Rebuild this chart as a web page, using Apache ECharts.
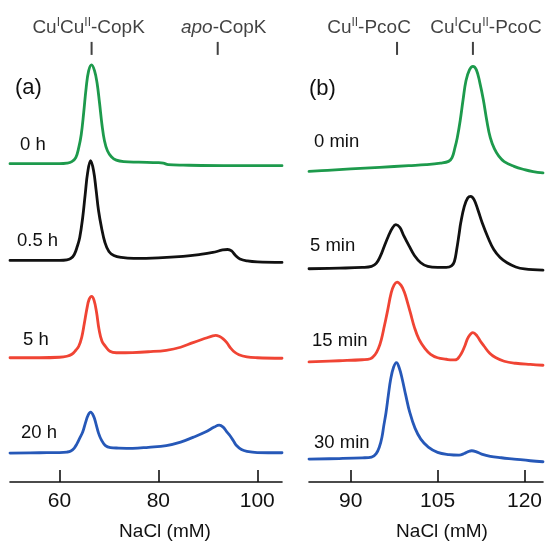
<!DOCTYPE html>
<html>
<head>
<meta charset="utf-8">
<script src="https://cdn.jsdelivr.net/npm/echarts@6/dist/echarts.min.js"></script>
<style>
  html, body { margin: 0; padding: 0; background: #fff; }
  #chart { width: 548px; height: 546px; }
</style>
</head>
<body>
<div id="chart"></div>
<script>
// ---------- DATA (x = NaCl mM, y = stacked absorbance, arbitrary units) ----------
// Panel (a): CopK
const copK_0h = [[50,319],[56,319],[60,319],[61.5,319.5],[62.5,321],[63.3,325],[63.9,335],[64.4,348],[64.9,370],[65.4,395],[65.9,412],[66.5,418],[67.1,412],[67.6,400],[68.1,380],[68.6,358],[69.1,342],[69.7,332],[70.5,326],[71.5,322.5],[73,321],[76,320.5],[80,320],[81,319.5],[82,318],[85,317.5],[95,317],[105,317]];
const copK_05h = [[50,222],[56,222],[60,222],[61.5,222.5],[62.3,224],[63.0,228],[63.6,236],[64.1,245],[64.7,265],[65.2,288],[65.7,310],[66.3,322],[66.9,312],[67.4,293],[67.9,272],[68.5,255],[69.2,240],[70.0,231],[71,227],[72.5,225],[75,224],[80,224.5],[85,226],[88.5,228],[91,230],[93,232.5],[94,233],[94.8,231.5],[95.6,227],[96.5,223.5],[98,221.5],[100,220.5],[105,220]];
const copK_5h = [[50,124.5],[56,124.5],[60,125],[61.5,126],[62.5,128],[63.3,132],[63.9,136],[64.5,145],[65.0,158],[65.6,175],[66.0,183],[66.5,186],[67.0,182],[67.5,170],[68.0,153],[68.6,141],[69.3,136],[70.2,131],[71.5,129.5],[74.8,129.7],[78,130.5],[81.6,132],[84.5,135],[87,139.7],[89.5,144],[91,146.5],[91.6,147],[92.3,146],[93.1,143.5],[93.8,140],[94.5,135],[95.2,131],[96.3,127.5],[97.9,125.3],[100,124.5],[105,124]];
const copK_20h = [[50,29],[56,29.3],[60,29.5],[61.5,30],[62.3,31],[63.0,34],[63.5,38],[64.1,44],[64.7,50],[65.3,60],[65.8,67],[66.3,70],[66.9,66],[67.4,58],[67.9,49],[68.5,42],[69.3,36.5],[70.3,34.5],[72,34],[74.8,33.7],[78,34.8],[81.6,36.5],[84.5,40],[87,44.7],[89.5,50],[91.3,55],[92.3,57],[93.1,55],[93.8,50.5],[94.5,46.3],[95.2,41],[95.8,36.5],[96.8,32.5],[97.9,30.7],[100,29.5],[105,29.3]];
// Panel (b): PcoC
const pcoC_0min = [[82.8,311.3],[86,312.3],[90,313.7],[95,315.3],[100,317],[103,318],[105.5,319.5],[106.9,321.3],[107.5,325],[108.0,335],[108.4,345],[108.9,362],[109.4,383],[109.9,402],[110.5,413],[111.1,416.5],[111.7,413],[112.3,400],[112.9,383],[113.5,362],[114.1,345],[114.8,334],[115.6,326.3],[116.5,321],[118.2,316.3],[120,313],[121.5,311],[123.2,309.7]];
const pcoC_5min = [[82.8,213.7],[88,214.3],[92,215],[93.6,216],[94.4,219],[95.1,226],[95.8,236.3],[96.5,246.3],[97.2,254.5],[97.8,258],[98.5,255],[99.2,246.3],[100.1,236.3],[101,227],[102.1,219.7],[103.3,216],[105,215],[106.5,215],[107.4,216.5],[107.9,221],[108.3,233],[108.7,248],[109.0,259.7],[109.6,276],[110.2,284.5],[110.7,286.3],[111.3,283],[112.0,272],[112.7,259.7],[113.7,245],[114.7,233],[115.8,225],[117.0,219.7],[118.5,215.5],[120,213.5],[123.2,212.3]];
const pcoC_15min = [[82.8,120.3],[88,121.5],[92,122.5],[93.4,123.5],[94.2,127.5],[94.8,134],[95.3,143],[95.8,156],[96.3,169.7],[97.0,189.7],[97.5,197.5],[98.0,200.3],[98.7,197],[99.3,189.7],[99.8,180],[100.3,169.7],[101.0,155],[101.8,143],[102.8,134],[103.8,128],[105,124.5],[106.5,123],[107.5,122.3],[108.2,122.5],[108.8,126],[109.3,131],[109.7,136.3],[110.3,145],[111.1,149.7],[111.8,146.5],[112.4,141],[113.0,136.3],[114.0,129],[115.0,124.7],[116.5,121],[118.5,119],[121,117.8],[123.2,117]];
const pcoC_30min = [[82.8,23],[88,23.5],[92,24.2],[93.6,25],[94.4,28.5],[95.0,36],[95.4,45],[95.7,56],[96.1,69.7],[96.5,87],[96.9,103],[97.4,115],[97.9,119.7],[98.4,114],[98.9,103],[99.5,87],[100.2,69.7],[101.1,54],[102.1,43],[103.4,35],[105.0,29.7],[107,27.5],[108.7,27],[109.6,28.5],[110.3,30.5],[110.9,31.3],[111.6,30.5],[112.6,28],[114.1,25.7],[116,24.3],[118.2,23],[121,21.3],[123.2,20.3]];

const leftTraceLabels = ['0 h', '0.5 h', '5 h', '20 h'];
const rightTraceLabels = ['0 min', '5 min', '15 min', '30 min'];
const leftTicks = [60, 80, 100];
const rightTicks = [90, 105, 120];
const leftPeakPositions = [66.5, 92.0];
const rightPeakPositions = [98.0, 111.1];
const leftPeakNames = ['{b|Cu}{s|I}{b|Cu}{s|II}{b|-CopK}', '{i|apo}{b|-CopK}'];
const rightPeakNames = ['{b|Cu}{s|II}{b|-PcoC}', '{b|Cu}{s|I}{b|Cu}{s|II}{b|-PcoC}'];
const panelLetters = ['(a)', '(b)'];
const axisTitle = 'NaCl (mM)';

// ---------- STYLE ----------
const FONT = '"Liberation Sans", Arial, Helvetica, sans-serif';
const colors = ['#1d9a4c', '#111111', '#f04434', '#2658b8'];
const TXT = '#111111';
const MARK_Y = 434.5; // level of the small peak-marker ticks above the traces

const chart = echarts.init(document.getElementById('chart'), null, { renderer: 'canvas' });

function traceSeries(data, idx, color) {
  return {
    type: 'line', xAxisIndex: idx, yAxisIndex: idx, data: data,
    showSymbol: false, smooth: 0.4,
    lineStyle: { color: color, width: 2.8, cap: 'round', join: 'round' }, itemStyle: { color: color },
    silent: true, animation: false, clip: false
  };
}

const rich = {
  b: { fontSize: 19, fontFamily: FONT, color: TXT, lineHeight: 22 },
  i: { fontSize: 19, fontFamily: FONT, color: TXT, fontStyle: 'italic', lineHeight: 22 },
  s: { fontSize: 12, fontFamily: FONT, color: TXT, lineHeight: 12, verticalAlign: 'top' }
};

function markerSeries(idx, positions, names, offsets) {
  return {
    type: 'scatter', xAxisIndex: idx, yAxisIndex: idx, animation: false, silent: true,
    symbol: 'rect', symbolSize: [2, 13], itemStyle: { color: '#111' },
    data: positions.map((p, k) => ({
      value: [p, MARK_Y],
      label: { show: true, position: 'top', distance: 3, offset: [offsets[k], 0],
               color: TXT, fontSize: 19, fontFamily: FONT,
               formatter: names[k], rich: rich }
    }))
  };
}

function xAxisCfg(idx, min, max, ticks, namePad) {
  return {
    type: 'value', gridIndex: idx, min: min, max: max,
    splitLine: { show: false },
    axisLine: { lineStyle: { color: '#111', width: 1.6 } },
    axisTick: { inside: true, length: 12, customValues: ticks, lineStyle: { color: '#111', width: 1.6 } },
    axisLabel: { customValues: ticks, margin: 9, fontSize: 21, fontFamily: FONT, color: TXT },
    name: axisTitle, nameLocation: 'middle', nameGap: 40,
    nameTextStyle: { fontSize: 19, fontFamily: FONT, color: TXT, padding: [0, 0, 0, namePad] }
  };
}

function label(text, x, y, size) {
  return { type: 'text', left: x, top: y - size * 0.6,
    style: { text: text, fontSize: size, fontFamily: FONT, fill: TXT } };
}

const graphics = [
  label(panelLetters[0], 15, 90, 22),
  label(panelLetters[1], 309, 91, 22),
  label(leftTraceLabels[0], 20, 147, 18.5),
  label(leftTraceLabels[1], 17, 243, 18.5),
  label(leftTraceLabels[2], 23, 342, 18.5),
  label(leftTraceLabels[3], 21, 435, 18.5),
  label(rightTraceLabels[0], 314, 144, 18.5),
  label(rightTraceLabels[1], 310, 248, 18.5),
  label(rightTraceLabels[2], 312, 343, 18.5),
  label(rightTraceLabels[3], 314, 445, 18.5)
];

const option = {
  backgroundColor: '#ffffff',
  animation: false,
  grid: [
    { left: 10, width: 272, top: 0, bottom: 63, containLabel: false },
    { left: 309, width: 234, top: 0, bottom: 63, containLabel: false }
  ],
  xAxis: [
    xAxisCfg(0, 50, 105, leftTicks, 38),
    xAxisCfg(1, 82.8, 123.2, rightTicks, 32)
  ],
  yAxis: [
    { type: 'value', gridIndex: 0, min: 0, max: 483, show: false },
    { type: 'value', gridIndex: 1, min: 0, max: 483, show: false }
  ],
  series: [
    traceSeries(copK_0h, 0, colors[0]),
    traceSeries(copK_05h, 0, colors[1]),
    traceSeries(copK_5h, 0, colors[2]),
    traceSeries(copK_20h, 0, colors[3]),
    traceSeries(pcoC_0min, 1, colors[0]),
    traceSeries(pcoC_5min, 1, colors[1]),
    traceSeries(pcoC_15min, 1, colors[2]),
    traceSeries(pcoC_30min, 1, colors[3]),
    markerSeries(0, leftPeakPositions, leftPeakNames, [-3, 6]),
    markerSeries(1, rightPeakPositions, rightPeakNames, [-28, 13])
  ],
  graphic: graphics
};

chart.setOption(option);
</script>
</body>
</html>
